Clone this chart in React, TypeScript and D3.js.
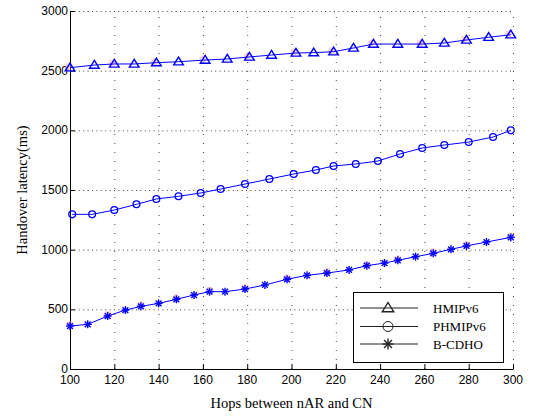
import React from "react";
import * as d3 from "d3";

const xTicks = [100, 120, 140, 160, 180, 200, 220, 240, 260, 280, 300];
const yTicks = [0, 500, 1000, 1500, 2000, 2500, 3000];

const hmipX = [100, 111, 120, 129, 139, 149, 161, 171, 181, 191, 202, 210, 219, 228, 237, 248, 259, 269, 279, 289, 299];
const hmipY = [2525, 2547, 2556, 2556, 2567, 2575, 2589, 2598, 2615, 2631, 2648, 2651, 2659, 2690, 2723, 2723, 2723, 2732, 2757, 2780, 2801];

const phmipX = [101, 110, 120, 130, 139, 149, 159, 168, 179, 190, 201, 211, 219, 229, 239, 249, 259, 269, 280, 291, 299];
const phmipY = [1296, 1296, 1332, 1380, 1425, 1447, 1475, 1508, 1550, 1592, 1634, 1668, 1701, 1718, 1743, 1802, 1852, 1877, 1902, 1944, 2000];

const bcdhoX = [100, 108, 117, 125, 132, 140, 148, 156, 163, 170, 179, 188, 198, 207, 216, 226, 234, 242, 248, 256, 264, 272, 279, 288, 299];
const bcdhoY = [360, 374, 444, 494, 525, 550, 584, 620, 648, 648, 670, 704, 752, 785, 804, 830, 866, 888, 911, 941, 969, 1003, 1031, 1064, 1103];

const legendNames = ["HMIPv6", "PHMIPv6", "B-CDHO"];

const W = 533, H = 416;
const L = 70, R = 513, T = 11, B = 369;

const x = d3.scaleLinear().domain([100, 300]).range([L, R]);
const y = d3.scaleLinear().domain([0, 3000]).range([B, T]);

const BLUE = "#0000ff";

function Tri({ cx, cy, color, s = 4.2 }: { cx: number; cy: number; color: string; s?: number }) {
  const p = `${cx},${cy - s * 1.1} ${cx - s * 1.15},${cy + s * 0.75} ${cx + s * 1.15},${cy + s * 0.75}`;
  return <polygon points={p} fill="none" stroke={color} strokeWidth={1.4} />;
}
function Star({ cx, cy, color, s = 4 }: { cx: number; cy: number; color: string; s?: number }) {
  const d = s * 0.72;
  return (
    <g stroke={color} strokeWidth={1.4}>
      <line x1={cx - s} y1={cy} x2={cx + s} y2={cy} />
      <line x1={cx} y1={cy - s} x2={cx} y2={cy + s} />
      <line x1={cx - d} y1={cy - d} x2={cx + d} y2={cy + d} />
      <line x1={cx - d} y1={cy + d} x2={cx + d} y2={cy - d} />
    </g>
  );
}

export default function App() {
  const line = d3.line<[number, number]>().x((d) => x(d[0])).y((d) => y(d[1]));
  const hm = hmipX.map((v, i) => [v, hmipY[i]] as [number, number]);
  const ph = phmipX.map((v, i) => [v, phmipY[i]] as [number, number]);
  const bc = bcdhoX.map((v, i) => [v, bcdhoY[i]] as [number, number]);
  const sans = "'Liberation Sans', Arial, sans-serif";
  const serif = "'Liberation Serif', 'Times New Roman', serif";
  const lgX = 353, lgY = 292, lgW = 150, lgH = 70;
  const rows = [308, 326.5, 344];
  return (
    <svg width={W} height={H} style={{ position: "absolute", left: 0, top: 0, background: "#fff" }}>
      <rect x={0} y={0} width={W} height={H} fill="#fff" />
      {/* grid */}
      <g stroke="#444" strokeWidth={1} strokeDasharray="1,3.4">
        {yTicks.filter((t) => t > 0).map((t) => (
          <line key={"gy" + t} x1={L} x2={R} y1={y(t) + 0.5} y2={y(t) + 0.5} />
        ))}
      </g>
      <g stroke="#444" strokeWidth={1} strokeDasharray="1,8">
        {xTicks.filter((t) => t > 100).map((t) => (
          <line key={"gx" + t} x1={x(t) + 0.5} x2={x(t) + 0.5} y1={B} y2={T} />
        ))}
      </g>
      {/* axes */}
      <g stroke="#000" strokeWidth={1}>
        <line x1={L + 0.5} x2={L + 0.5} y1={T} y2={B + 0.5} />
        <line x1={L} x2={R + 0.5} y1={B + 0.5} y2={B + 0.5} />
        {yTicks.map((t) => (
          <line key={"ty" + t} x1={L} x2={L + 5} y1={y(t) + 0.5} y2={y(t) + 0.5} />
        ))}
        {xTicks.map((t) => (
          <line key={"tx" + t} x1={x(t) + 0.5} x2={x(t) + 0.5} y1={B} y2={B - 5} />
        ))}
      </g>
      <g fontFamily={sans} fontSize={12} fill="#000">
        {yTicks.map((t) => (
          <text key={"ly" + t} x={L - 2} y={y(t) + 4} textAnchor="end">{t}</text>
        ))}
        {xTicks.map((t) => (
          <text key={"lx" + t} x={x(t)} y={B + 15} textAnchor="middle">{t}</text>
        ))}
      </g>
      <text x={(L + R) / 2 - 0} y={408} textAnchor="middle" fontFamily={serif} fontSize={14.5}>Hops between nAR and CN</text>
      <text transform={`translate(27,${(T + B) / 2 + 0}) rotate(-90)`} textAnchor="middle" fontFamily={serif} fontSize={14.5}>Handover latency(ms)</text>
      {/* faint pink markers */}
      <g fill="#f4a0a0" opacity={0.45}>
        {hm.filter((_, i) => i % 2 === 0).map((d, i) => (
          <circle key={"ph" + i} cx={x(d[0]) - 2} cy={y(d[1]) - 1} r={3.5} />
        ))}
        {bc.filter((_, i) => i % 2 === 0).map((d, i) => (
          <circle key={"pb" + i} cx={x(d[0])} cy={y(d[1]) - 1} r={4} />
        ))}
      </g>
      {/* lines */}
      <path d={line(hm) || ""} fill="none" stroke={BLUE} strokeWidth={1} />
      <path d={line(ph) || ""} fill="none" stroke={BLUE} strokeWidth={1} />
      <path d={line(bc) || ""} fill="none" stroke={BLUE} strokeWidth={1} />
      {hm.map((d, i) => <Tri key={"h" + i} cx={x(d[0])} cy={y(d[1])} color={BLUE} />)}
      {ph.map((d, i) => (
        <circle key={"p" + i} cx={x(d[0])} cy={y(d[1])} r={3.4} fill="none" stroke={BLUE} strokeWidth={1.3} />
      ))}
      {bc.map((d, i) => <Star key={"b" + i} cx={x(d[0])} cy={y(d[1])} color={BLUE} />)}
      {/* legend */}
      <rect x={lgX + 0.5} y={lgY + 0.5} width={lgW} height={lgH} fill="#fff" stroke="#000" strokeWidth={1} />
      {rows.map((ry, i) => (
        <g key={"lg" + i}>
          <line x1={360} x2={418} y1={ry} y2={ry} stroke="#222" strokeWidth={1} />
          {i === 0 && <Tri cx={388} cy={ry} color="#222" s={5} />}
          {i === 1 && <circle cx={388} cy={ry} r={5} fill="none" stroke="#222" strokeWidth={1} />}
          {i === 2 && <Star cx={388} cy={ry} color="#222" s={5.5} />}
          <text x={433} y={ry + 4.5} fontFamily={serif} fontSize={13} fill="#000">{legendNames[i]}</text>
        </g>
      ))}
    </svg>
  );
}
